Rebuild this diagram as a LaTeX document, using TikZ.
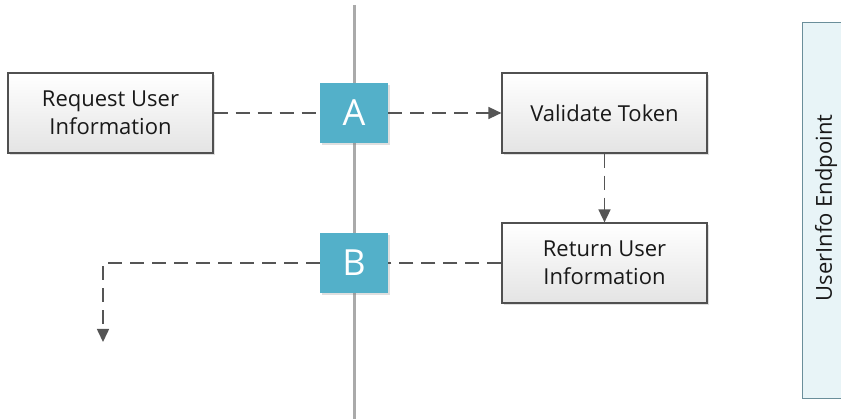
\documentclass[tikz,border=0pt]{standalone}
\usepackage{fontspec}
\setmainfont{Open Sans}
\usetikzlibrary{shadows,arrows.meta}
\definecolor{boxborder}{HTML}{505050}
\definecolor{boxtop}{HTML}{FFFFFF}
\definecolor{boxbot}{HTML}{E4E4E4}
\definecolor{teal}{HTML}{53B0C9}
\definecolor{linegray}{HTML}{555555}
\definecolor{lanegray}{HTML}{AAAAAA}
\definecolor{sidefill}{HTML}{E8F4F7}
\definecolor{sideborder}{HTML}{6A8E9A}
\tikzset{
  stepbox/.style={draw=boxborder, line width=1.2pt, top color=boxtop, bottom color=boxbot,
    minimum width=205pt, minimum height=80pt, inner sep=0pt, align=center,
    font=\fontsize{22}{28}\selectfont, text=black!90,
    drop shadow={opacity=0.25, shadow xshift=2pt, shadow yshift=-2pt}},
  markbox/.style={fill=teal, minimum width=68pt, minimum height=60pt, inner sep=0pt,
    text=white, font=\fontsize{36}{38}\selectfont,
    drop shadow={opacity=0.25, shadow xshift=2pt, shadow yshift=-2pt}},
  flow/.style={draw=linegray, line width=1.6pt, dash pattern=on 14pt off 8pt},
  tip/.style={-{Triangle[length=13pt,width=12pt]}}
}
\begin{document}
\begin{tikzpicture}[x=1pt,y=-1pt]
\useasboundingbox (0,0) rectangle (841,419);
\draw[lanegray, line width=3pt] (354,5) -- (354,419);
\node[draw=sideborder, line width=1.2pt, fill=sidefill, minimum width=50pt, minimum height=376pt, anchor=north west, inner sep=0pt] (side) at (802,22) {};
\node[rotate=90, font=\fontsize{22}{28}\selectfont, text=black!90] (sidelabel) at (826,208) {UserInfo Endpoint};
\node[stepbox] (req) at (110.5,113) {Request User\\Information};
\node[stepbox] (val) at (604.5,113) {Validate Token};
\node[stepbox] (ret) at (604.5,263) {Return User\\Information};
\node[markbox] (A) at (354,113) {A};
\node[markbox] (B) at (354,263) {B};
\coordinate (corner) at (103,263);
\coordinate (end) at (103,342);
\draw[flow] (req.east) -- (A.west);
\draw[flow, tip] (A.east) -- (val.west);
\draw[flow, tip] (val.south) -- (ret.north);
\draw[flow] (ret.west) -- (B.east);
\draw[flow, tip] (B.west) -- (corner) -- (end);
\end{tikzpicture}
\end{document}
